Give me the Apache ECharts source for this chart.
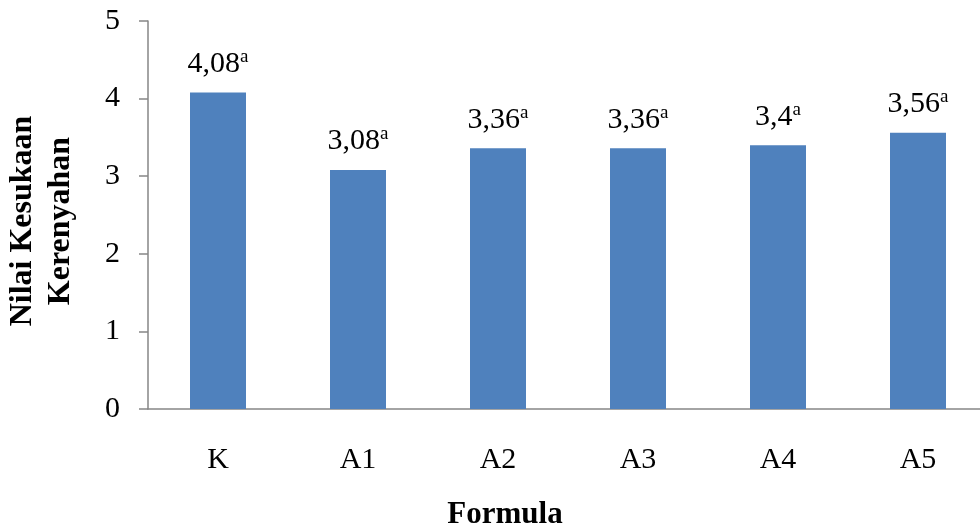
<!DOCTYPE html>
<html>
<head>
<meta charset="utf-8">
<script src="https://cdn.jsdelivr.net/npm/echarts@6/dist/echarts.min.js"></script>
<style>
  html, body { margin: 0; padding: 0; background: #ffffff; }
  #chart { width: 980px; height: 525px; }
</style>
</head>
<body>
<div id="chart"></div>
<script>
// Formula categories, mean crispness scores and significance letters
const categories = ['K', 'A1', 'A2', 'A3', 'A4', 'A5'];
const scores = [4.08, 3.08, 3.36, 3.36, 3.4, 3.56];
const letters = ['a', 'a', 'a', 'a', 'a', 'a'];
const yTicks = [0, 1, 2, 3, 4, 5];

const serif = '"Liberation Serif", "Times New Roman", serif';
const axisGray = '#868686';

const chart = echarts.init(document.getElementById('chart'));

chart.setOption({
  backgroundColor: '#ffffff',
  animation: false,
  grid: {
    left: 148, right: -8, top: 21, bottom: 116,
    containLabel: false, outerBoundsMode: 'none'
  },
  xAxis: {
    type: 'category',
    data: categories,
    name: 'Formula',
    nameLocation: 'middle',
    nameGap: 90,
    nameTextStyle: {
      fontFamily: serif, fontSize: 31, fontWeight: 'bold', color: '#000',
      padding: [0, 126, 0, 0]
    },
    axisLine: { lineStyle: { color: axisGray, width: 1.5 } },
    axisTick: { show: false },
    axisLabel: { fontFamily: serif, fontSize: 30, color: '#000', margin: 36 }
  },
  yAxis: {
    type: 'value',
    min: yTicks[0],
    max: yTicks[yTicks.length - 1],
    interval: 1,
    name: 'Nilai Kesukaan\nKerenyahan',
    nameLocation: 'middle',
    nameGap: 68,
    nameRotate: 90,
    nameTextStyle: {
      fontFamily: serif, fontSize: 32, fontWeight: 'bold', color: '#000',
      lineHeight: 38,
      padding: [0, 12, 0, 0]
    },
    axisLine: { show: true, lineStyle: { color: axisGray, width: 1.5 } },
    axisTick: { show: true, inside: false, length: 9, lineStyle: { color: axisGray, width: 1.5 } },
    splitLine: { show: false },
    axisLabel: { fontFamily: serif, fontSize: 30, color: '#000', margin: 28 }
  },
  series: [{
    type: 'bar',
    data: scores,
    barWidth: '40%',
    itemStyle: { color: '#4f81bd' },
    label: {
      show: true,
      position: 'top',
      distance: 12,
      formatter: function (p) {
        const txt = String(p.value).replace('.', ',');
        return '{v|' + txt + '}{s|' + letters[p.dataIndex] + '}';
      },
      rich: {
        v: { fontFamily: serif, fontSize: 30, color: '#000' },
        s: { fontFamily: serif, fontSize: 19, color: '#000', padding: [0, 0, 14, 0] }
      }
    }
  }]
});
</script>
</body>
</html>
